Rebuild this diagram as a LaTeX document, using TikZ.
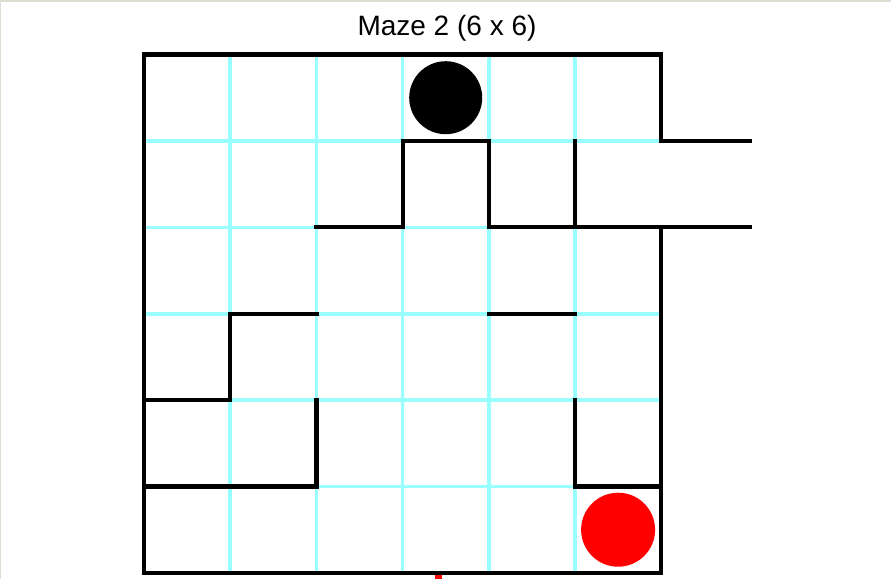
\documentclass[tikz,border=0pt]{standalone}
\usepackage{fontspec}
\setmainfont{Liberation Sans}
\usepackage{tikz}
\usetikzlibrary{positioning,calc}
\definecolor{wallink}{HTML}{000000}
\definecolor{gridcyan}{HTML}{99FFFF}
\definecolor{goalred}{HTML}{FF0000}
\definecolor{frameedge}{HTML}{D9E0D2}

\tikzset{
  wall/.style={draw=wallink,line width=4.2pt,line cap=rect,line join=miter},
  gridline/.style={draw=gridcyan,line width=3.6pt},
  token/.style={circle,inner sep=0pt,minimum size=73pt}
}

\begin{document}
\begin{tikzpicture}[x=1pt,y=-1pt]
  \useasboundingbox[fill=white] (0,0) rectangle (891,579);
  % faint window edge
  \draw[frameedge,line width=2.5pt] (0,579) -- (0,1) -- (891,1);

  \node[font=\fontsize{28}{30}\selectfont,anchor=base] (title) at (447,35) {Maze 2 (6 x 6)};

  \begin{scope}[shift={(144,54.5)},x=86.2pt,y=-86.4pt]
    % cell grid
    \foreach \k in {1,...,5}{
      \draw[gridline] (\k,0) -- (\k,6);
      \draw[gridline] (0,\k) -- (6,\k);
    }
    % outer walls with the exit on the right
    \draw[wall] (6,1) -- (6,0) -- (0,0) -- (0,6) -- (6,6) -- (6,2);
    \draw[wall] (6,1) -- (7.03,1);
    \draw[wall] (2,2) -- (3,2) -- (3,1) -- (4,1) -- (4,2) -- (7.03,2);
    \draw[wall] (5,1) -- (5,2);
    % inner walls
    \draw[wall] (0,4) -- (1,4) -- (1,3) -- (2,3);
    \draw[wall] (4,3) -- (5,3);
    \draw[wall] (0,5) -- (2,5) -- (2,4);
    \draw[wall] (5,4) -- (5,5) -- (6,5);
    % start and goal
    \node[token,fill=wallink] (start) at (3.5,0.5) {};
    \node[token,fill=goalred,minimum size=74pt] (goal) at (5.5,5.5) {};
  \end{scope}

  \fill[goalred] (435,575) rectangle (442,579);
\end{tikzpicture}
\end{document}
